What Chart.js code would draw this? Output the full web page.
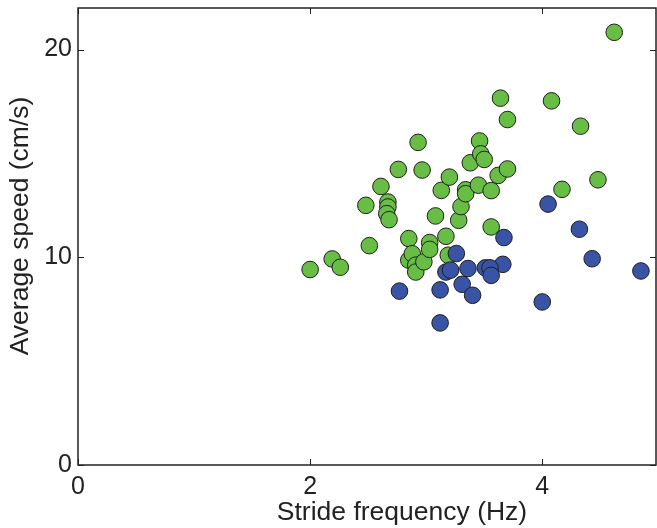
<!DOCTYPE html>
<html>
<head>
<meta charset="utf-8">
<script src="https://cdn.jsdelivr.net/npm/chart.js@4"></script>
<style>
  body { margin: 0; background: #fff; overflow: hidden; }
</style>
</head>
<body>
<canvas id="myChart" width="657" height="528"></canvas>
<script>
// stride frequency (Hz), average speed (cm/s)
const greenX = [2.00, 2.19, 2.26, 2.48, 2.51, 2.61, 2.67, 2.67, 2.66, 2.68, 2.76, 2.85, 2.85, 2.88, 2.91, 2.91,
  2.93, 2.965, 2.98, 3.03, 3.03, 3.08, 3.13, 3.17, 3.19, 3.20, 3.28, 3.30, 3.34, 3.34, 3.38, 3.45, 3.46,
  3.47, 3.50, 3.56, 3.56, 3.62, 3.64, 3.70, 3.70, 4.08, 4.17, 4.33, 4.48, 4.62];
const greenY = [9.41, 9.92, 9.52, 12.5, 10.56, 13.41, 12.66, 12.42, 12.10, 11.81, 14.23, 10.90, 9.86, 10.17, 9.62, 9.29,
  15.53, 14.20, 9.78, 10.71, 10.38, 11.99, 13.22, 11.01, 10.10, 13.86, 11.78, 12.44, 13.25, 13.06, 14.55, 13.47, 15.6,
  14.98, 14.71, 13.21, 11.46, 13.94, 17.66, 16.63, 14.25, 17.53, 13.27, 16.31, 13.73, 20.83];

const blueX = [3.26, 3.17, 3.21, 3.36, 3.31, 3.40, 2.77, 3.12, 3.12, 4.05, 3.67, 4.32, 4.43, 4.85, 4.00, 3.66,
  3.51, 3.55, 3.56];
const blueY = [10.18, 9.29, 9.38, 9.46, 8.70, 8.17, 8.37, 8.43, 6.84, 12.56, 10.95, 11.35, 9.93, 9.34, 7.85, 9.66,
  9.49, 9.49, 9.13];

const xTicks = [0, 2, 4];
const yTicks = [0, 10, 20];
const xTitle = 'Stride frequency (Hz)';
const yTitle = 'Average speed (cm/s)';

function toPoints(xs, ys) {
  return xs.map((x, i) => ({ x: x, y: ys[i] }));
}

// box, inward tick marks and the two axis titles
const frame = {
  id: 'frame',
  afterDraw(chart) {
    const ctx = chart.ctx;
    const a = chart.chartArea;
    const xs = chart.scales.x, ys = chart.scales.y;
    const len = 6;
    ctx.save();
    ctx.strokeStyle = '#222';
    ctx.lineWidth = 1;
    xTicks.forEach(v => {
      const px = Math.round(xs.getPixelForValue(v)) + 0.5;
      ctx.beginPath();
      ctx.moveTo(px, a.bottom); ctx.lineTo(px, a.bottom - len);
      ctx.moveTo(px, a.top); ctx.lineTo(px, a.top + len);
      ctx.stroke();
    });
    yTicks.forEach(v => {
      const py = Math.round(ys.getPixelForValue(v)) + 0.5;
      ctx.beginPath();
      ctx.moveTo(a.left, py); ctx.lineTo(a.left + len, py);
      ctx.moveTo(a.right, py); ctx.lineTo(a.right - len, py);
      ctx.stroke();
    });
    ctx.lineWidth = 1.5;
    ctx.strokeRect(a.left, a.top, a.right - a.left, a.bottom - a.top);

    ctx.fillStyle = '#222';
    ctx.font = '26.5px "Liberation Sans"';
    ctx.textAlign = 'center';
    ctx.textBaseline = 'middle';
    ctx.fillText(xTitle, 402, 513);
    ctx.translate(21, 226);
    ctx.rotate(-Math.PI / 2);
    ctx.fillText(yTitle, 0, 0);
    ctx.restore();
  }
};

const ctx = document.getElementById('myChart').getContext('2d');
const chart = new Chart(ctx, {
  type: 'scatter',
  data: {
    datasets: [
      {
        label: 'blue',
        data: toPoints(blueX, blueY),
        backgroundColor: 'rgb(57, 84, 164)',
        borderColor: '#1e1e1e',
        borderWidth: 1,
        pointRadius: 8.3
      },
      {
        label: 'green',
        data: toPoints(greenX, greenY),
        backgroundColor: 'rgb(104, 189, 69)',
        borderColor: '#1e1e1e',
        borderWidth: 1,
        pointRadius: 8.3
      }
    ]
  },
  options: {
    responsive: false,
    animation: false,
    layout: { autoPadding: false, padding: { top: 8, right: 1, left: 0, bottom: 0 } },
    plugins: {
      legend: { display: false },
      tooltip: { enabled: false }
    },
    scales: {
      x: {
        type: 'linear',
        min: 0,
        max: 4.98,
        afterBuildTicks: s => { s.ticks = xTicks.map(v => ({ value: v })); },
        afterFit: s => { s.height = 63; s.paddingLeft = 0; s.paddingRight = 0; },
        grid: { display: false, drawTicks: false },
        border: { display: false },
        ticks: {
          color: '#222',
          padding: 7,
          maxRotation: 0,
          font: { family: 'Liberation Sans', size: 25 }
        }
      },
      y: {
        type: 'linear',
        min: 0,
        max: 22,
        afterBuildTicks: s => { s.ticks = yTicks.map(v => ({ value: v })); },
        afterFit: s => { s.width = 78; s.paddingTop = 0; s.paddingBottom = 0; },
        grid: { display: false, drawTicks: false },
        border: { display: false },
        ticks: {
          color: '#222',
          padding: 6,
          font: { family: 'Liberation Sans', size: 25 }
        }
      }
    }
  },
  plugins: [frame]
});
</script>
</body>
</html>
